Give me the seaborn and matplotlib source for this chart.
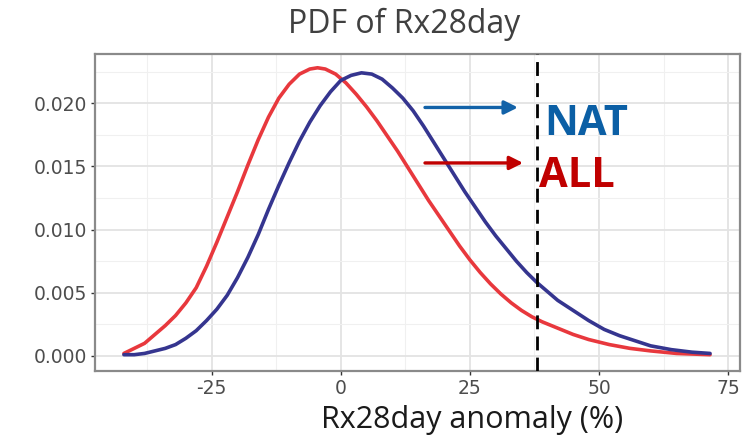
import numpy as np
import pandas as pd
import matplotlib
matplotlib.use("Agg")
import matplotlib.pyplot as plt
import seaborn as sns
from matplotlib.ticker import MultipleLocator

# ---- data ----
all_x = [-42, -40, -38, -36, -34, -32, -30, -28, -26, -24, -22, -20, -18, -16, -14, -12, -10,
         -8, -6, -4.5, -3, -1, 1, 3, 5, 7, 9, 11, 13, 15, 17, 19, 21, 23, 25, 27, 29, 31,
         33, 35, 37, 39, 42, 45, 48, 52, 56, 60, 65, 71.5]
all_y = [0.0002, 0.0006, 0.0010, 0.0017, 0.0024, 0.0032, 0.0042, 0.0054, 0.0071, 0.0090, 0.0110,
         0.0130, 0.0151, 0.0171, 0.0189, 0.0204, 0.0215, 0.0223, 0.0227, 0.0228, 0.0227, 0.0223,
         0.0216, 0.0207, 0.0197, 0.0186, 0.0174, 0.0162, 0.0149, 0.0136, 0.0123, 0.0111, 0.0099,
         0.0087, 0.0076, 0.0066, 0.0057, 0.0049, 0.0042, 0.0036, 0.0031, 0.0027, 0.0022, 0.0017,
         0.0013, 0.0009, 0.0006, 0.0004, 0.0002, 0.0001]

nat_x = [-42, -40, -38, -36, -34, -32, -30, -28, -26, -24, -22, -20, -18, -16, -14, -12, -10,
         -8, -6, -4, -2, 0, 2, 4, 6, 8, 10, 12, 14, 16, 18, 20, 22, 24, 26, 28, 30, 32, 34,
         36, 38, 40, 42, 45, 48, 51, 54, 57, 60, 64, 68, 71.5]
nat_y = [0.0001, 0.0001, 0.0002, 0.0004, 0.0006, 0.0009, 0.0014, 0.0020, 0.0028, 0.0037, 0.0048,
         0.0062, 0.0078, 0.0096, 0.0116, 0.0135, 0.0153, 0.0170, 0.0185, 0.0198, 0.0209, 0.0218,
         0.0222, 0.0224, 0.0223, 0.0219, 0.0212, 0.0204, 0.0194, 0.0182, 0.0169, 0.0156, 0.0143,
         0.0130, 0.0118, 0.0106, 0.0095, 0.0085, 0.0075, 0.0066, 0.0058, 0.0051, 0.0044, 0.0036,
         0.0028, 0.0021, 0.0016, 0.0012, 0.0008, 0.0005, 0.0003, 0.0002]

threshold = 38.0
x_ticks = [-25, 0, 25, 50, 75]
y_ticks = [0.000, 0.005, 0.010, 0.015, 0.020]
y_tick_labels = ["0.000", "0.005", "0.010", "0.015", "0.020"]

df = pd.DataFrame({
    "x": all_x + nat_x,
    "y": all_y + nat_y,
    "run": ["ALL"] * len(all_x) + ["NAT"] * len(nat_x),
})

sns.set_theme(style="white")
plt.rcParams["font.family"] = ["DejaVu Sans"]
plt.rcParams["axes.unicode_minus"] = False

fig = plt.figure(figsize=(7.49, 4.44), dpi=100)
ax = fig.add_axes([95 / 749, 1 - 371 / 444, (740 - 95) / 749, (371 - 54) / 444])

palette = {"ALL": "#E8383D", "NAT": "#35358F"}
sns.lineplot(data=df, x="x", y="y", hue="run", palette=palette, ax=ax,
             linewidth=2.6, legend=False, sort=True, estimator=None,
             solid_joinstyle="round", solid_capstyle="round")

ax.axvline(threshold, color="black", lw=2.0, dashes=(5, 2.6), zorder=5)

ax.set_xlim(-47.6, 77.3)
ax.set_ylim(-0.00119, 0.02389)
ax.set_xticks(x_ticks)
ax.set_yticks(y_ticks)
ax.set_yticklabels(y_tick_labels)
ax.xaxis.set_minor_locator(MultipleLocator(12.5))
ax.yaxis.set_minor_locator(MultipleLocator(0.0025))
ax.grid(which="major", color="#E3E3E3", lw=1.3)
ax.grid(which="minor", color="#F0F0F0", lw=0.8)
ax.set_axisbelow(True)
for s in ax.spines.values():
    s.set_visible(True)
    s.set_color("#8A8A8A")
    s.set_linewidth(1.6)
ax.tick_params(axis="both", which="major", length=3, width=1, color="#333333",
               labelcolor="#4D4D4D", labelsize=13.5, pad=3, bottom=True, left=True)
ax.tick_params(axis="both", which="minor", length=0)
ax.set_xlabel("")
ax.set_ylabel("")

# arrows and labels
ax.annotate("", xy=(34.3, 0.01966), xytext=(16.3, 0.01966),
            arrowprops=dict(arrowstyle="-|>", color="#1262A8", lw=2.4, mutation_scale=20,
                            shrinkA=0, shrinkB=0))
ax.annotate("", xy=(35.3, 0.01527), xytext=(16.3, 0.01527),
            arrowprops=dict(arrowstyle="-|>", color="#C00000", lw=2.4, mutation_scale=20,
                            shrinkA=0, shrinkB=0))
ax.text(39.3, 0.01748, "NAT", color="#0B5FA5", fontsize=30, fontweight="bold",
        family=["Open Sans", "DejaVu Sans"], ha="left", va="baseline", zorder=6)
ax.text(38.3, 0.01337, "ALL", color="#C00000", fontsize=30, fontweight="bold",
        family=["Open Sans", "DejaVu Sans"], ha="left", va="baseline", zorder=6)

fig.text(404 / 749, 1 - 24 / 444, "PDF of Rx28day", color="#404040", fontsize=23,
         family=["Open Sans", "DejaVu Sans"], ha="center", va="center")
fig.text(472 / 749, 1 - 420 / 444, "Rx28day anomaly (%)", color="#1A1A1A", fontsize=22,
         family=["Open Sans", "DejaVu Sans"], ha="center", va="center")

fig.savefig("out.png", dpi=100)
